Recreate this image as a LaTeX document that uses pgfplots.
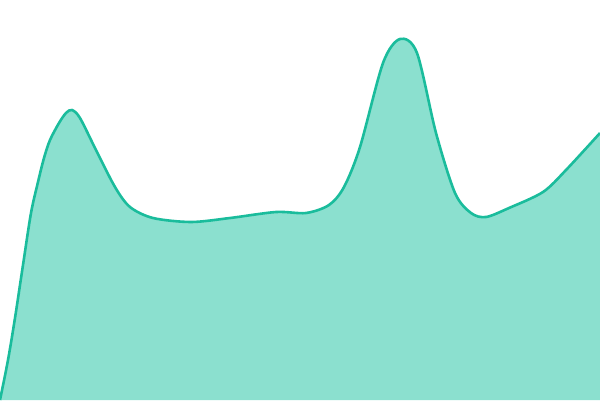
\documentclass[border=0pt]{standalone}
\usepackage{pgfplots}
\pgfplotsset{compat=1.18}
\definecolor{lineC}{HTML}{1ABC9C}
\definecolor{fillC}{HTML}{8BE0CF}
\pgfplotstableread{
x y
0 0
8 40
15 82
23 135
31 187
38 218
44 242
50 260
59 277
66 287
72 290
80 282
96 250
115 213
130 193
153 182
191 178
230 182
276 188
306 187
329 195
344 213
360 253
383 337
400 361
417 347
436 267
455 207
471 187
486 183
509 192
543 208
566 230
600 267
}\curve
\begin{document}
\begin{tikzpicture}
\begin{axis}[
  hide axis,
  scale only axis,
  width=600bp, height=400bp,
  xmin=0, xmax=600, ymin=0, ymax=400,
  clip=true,
]
\path[draw=none] (rel axis cs:0,0) rectangle (rel axis cs:1,1);
\addplot[draw=none, fill=fillC, smooth, tension=0.5] table {\curve} \closedcycle;
\addplot[draw=lineC, line width=2.6bp, smooth, tension=0.5] table {\curve};
\end{axis}
\end{tikzpicture}
\end{document}
